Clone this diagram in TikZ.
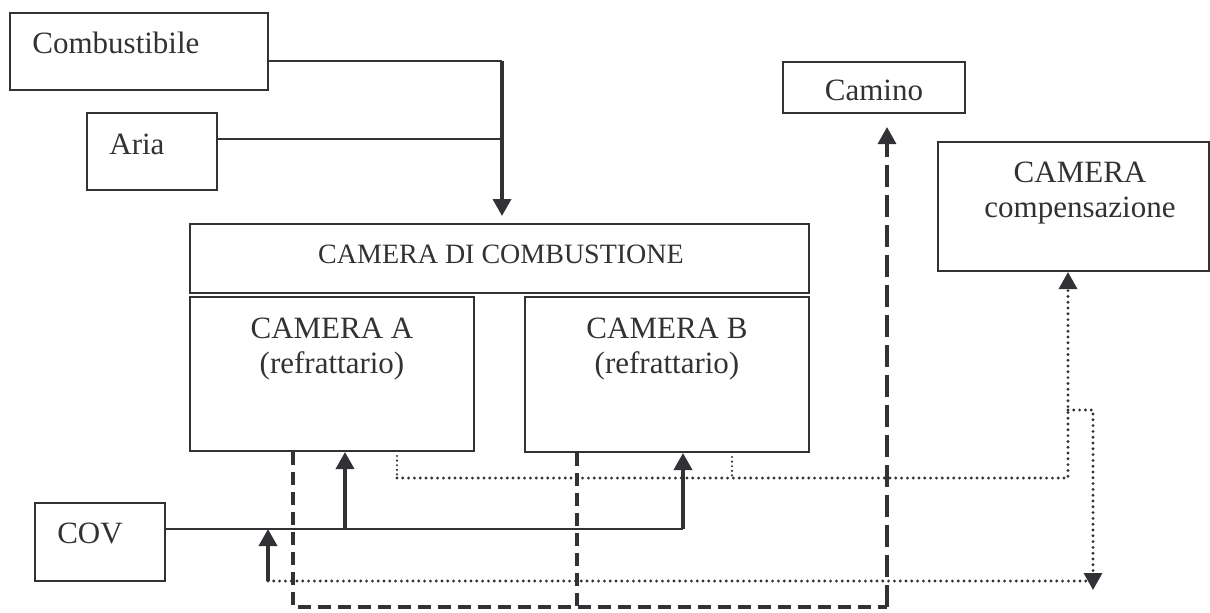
\documentclass[tikz,border=0pt]{standalone}
\usepackage{fontspec}
\setmainfont{Liberation Serif}
\usetikzlibrary{arrows.meta}
\definecolor{ink}{RGB}{50,50,54}
\begin{document}
\begin{tikzpicture}[x=0.5pt,y=-0.5pt,
 box/.style={draw=ink, line width=1pt, rectangle, inner sep=0pt},
 lbl/.style={text=ink, font=\fontsize{15.5}{17.5}\selectfont, inner sep=0pt, align=center},
 thinline/.style={draw=ink, line width=1pt},
 tip/.style={-{Triangle[width=9pt,length=8.5pt]}},
 heavy/.style={draw=ink, line width=1.8pt, tip},
 dashA/.style={draw=ink, line width=1.6pt, dash pattern=on 6.5pt off 3.5pt},
 dashB/.style={draw=ink, line width=1.6pt, dash pattern=on 11pt off 4pt},
 dots/.style={draw=ink, line width=1.6pt, line cap=round, dash pattern=on 0pt off 2.9pt},
 fine/.style={draw=ink, line width=1.2pt, line cap=round, dash pattern=on 0pt off 2.3pt}
]
\useasboundingbox (0,0) rectangle (1210,612);

% boxes
\node[box, minimum width=129pt, minimum height=38.5pt] (comb) at (139,51.5) {};
\node[box, minimum width=65pt, minimum height=38.5pt] (aria) at (152,151.5) {};
\node[box, minimum width=309.5pt, minimum height=34.5pt] (cc) at (499.5,258.5) {};
\node[box, minimum width=142pt, minimum height=77pt] (camA) at (332,374) {};
\node[box, minimum width=142pt, minimum height=77.5pt] (camB) at (667,374.5) {};
\node[box, minimum width=91pt, minimum height=25.5pt] (camino) at (874,87.5) {};
\node[box, minimum width=135.5pt, minimum height=64.5pt] (comp) at (1073.5,206.5) {};
\node[box, minimum width=65pt, minimum height=39pt] (cov) at (100,542) {};

% texts
\node[lbl, anchor=west] (combT) at (32,43) {Combustibile};
\node[lbl, anchor=west] (ariaT) at (109,144.5) {Aria};
\node[lbl, font=\fontsize{14}{16}\selectfont] (ccT) at (501,254) {CAMERA DI COMBUSTIONE};
\node[lbl] (camAT) at (332,349) {CAMERA A\\(refrattario)};
\node[lbl] (camBT) at (667,349) {CAMERA B\\(refrattario)};
\node[lbl] (caminoT) at (874,90.5) {Camino};
\node[lbl] (compT) at (1080,193) {CAMERA\\compensazione};
\node[lbl] (covT) at (90,533.5) {COV};

% fuel and air
\coordinate (j1) at (502,61);
\coordinate (j2) at (502,139);
\draw[thinline] (comb.east |- j1) -- (j1);
\draw[thinline] (aria.east |- j2) -- (j2);
\draw[heavy, shorten >=3.5pt] (j1) -- (j1 |- cc.north);

% COV feed
\coordinate (c0) at (268,529);
\coordinate (c1) at (345,529);
\coordinate (c2) at (683,529);
\draw[thinline] (cov.east |- c2) -- (c2);
\draw[heavy] (c1) -- (c1 |- camA.south);
\draw[heavy] (c2) -- (c2 |- camB.south);
\coordinate (d0) at (268,581);
\draw[heavy] (d0) -- (c0);

% dotted lines
\coordinate (dend) at (1086,581);
\draw[dots] (d0) -- (dend);
\coordinate (pA) at (397,478);
\coordinate (pB) at (732,478);
\coordinate (pC) at (1068,478);
\coordinate (pD) at (1068,410);
\coordinate (pE) at (1093,410);
\coordinate (pF) at (1093,590);
\draw[fine] ([yshift=-2pt]pA |- camA.south) -- (pA);
\draw[fine] ([yshift=-2pt]pB |- camB.south) -- (pB);
\draw[dots, tip] (pA) -- (pC) -- (pC |- comp.south);
\draw[dots, tip] (pD) -- (pE) -- (pF);

% dashed lines
\coordinate (qA) at (293,607);
\coordinate (qB) at (577,607);
\coordinate (qC) at (887,607);
\draw[dashA] (qA |- camA.south) -- (qA) -- (qC);
\draw[dashA] (qB |- camB.south) -- (qB);
\draw[dashB, tip, shorten >=6.5pt] (qC) -- (qC |- camino.south);
\end{tikzpicture}
\end{document}
